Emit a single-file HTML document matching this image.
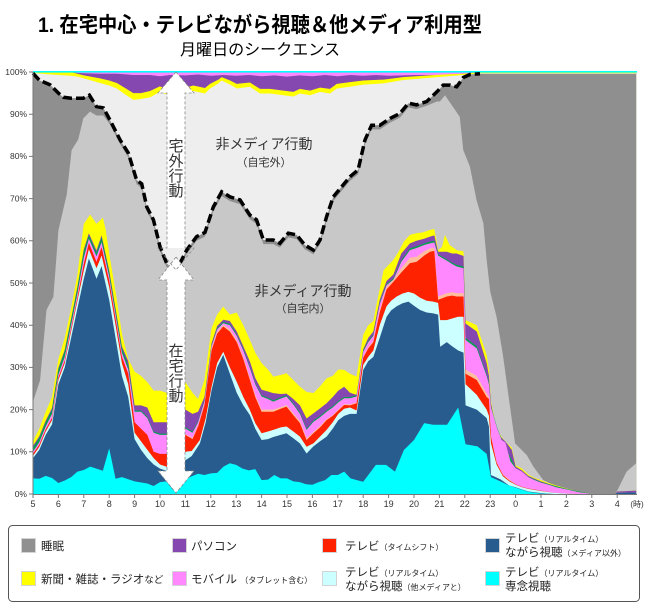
<!DOCTYPE html>
<html><head><meta charset="utf-8"><style>
html,body{margin:0;padding:0;background:#fff;overflow:hidden}
svg{display:block}
text{font-family:"Liberation Sans","Noto Sans CJK JP",sans-serif}
</style></head><body>
<svg width="650" height="611" viewBox="0 0 650 611" xmlns="http://www.w3.org/2000/svg">
<rect width="650" height="611" fill="#fff"/>
<text x="38" y="32" font-size="21" font-weight="bold" fill="#000" textLength="444" lengthAdjust="spacingAndGlyphs">1. 在宅中心・テレビながら視聴＆他メディア利用型</text>
<text x="180" y="55" font-size="16" fill="#000" textLength="160" lengthAdjust="spacingAndGlyphs">月曜日のシークエンス</text>

<g transform="translate(33,494) scale(25.4,-4.22)">
<rect x="0" y="0" width="23.75" height="100" fill="#ff88ff"/>
<polygon fill="#8547b0" points="0,0 0,100 1.5,100 1.75,99.8 2,99.7 2.64,99.6 3.3,99.6 3.95,99.3 4.6,99.3 5,99 5.4,99.3 6,99.2 6.5,99.4 7,99.1 7.5,99.3 8,99.1 8.5,99.3 9,99 9.5,99.2 10,98.9 10.5,99.2 11,99 11.5,99.3 12,99 12.5,99.3 13,99.1 13.5,99.3 14,99.1 15,99.3 16,99.3 16.94,99.6 17.6,100 23.75,100 23.75,0"/>
<polygon fill="#ffff00" points="0,0 0,100 1.5,100 1.75,99.6 2,99.2 2.64,98.5 3,98 3.3,97.4 3.6,96.3 3.95,95 4.25,95 4.61,95.5 4.99,96.6 5.39,95.8 5.92,96.1 6.31,96.8 6.77,96.2 6.97,97.2 7.3,98.2 7.43,98.8 7.76,98 8.02,97.2 8.54,97.5 8.94,96 9.33,96 9.86,95.6 10.25,95.3 10.51,96 10.91,95.6 11.3,96.3 11.69,96 11.96,97.2 12.48,97.6 13,98 13.8,98.2 14.58,98.8 15.37,99.1 16.15,99.4 16.94,99.6 17.6,100 23.75,100 23.75,0"/>
<polygon fill="#eeeeee" points="0,0 0,99.8 0.5,99.5 1,99.3 1.5,99.1 1.75,98.9 2,98.5 2.3,98 2.64,97.4 3,96.8 3.3,96.1 3.6,94.8 3.95,93.4 4.25,93.6 4.61,94 4.99,95.3 5.39,94.5 5.92,94.9 6.31,95.5 6.77,94.9 6.97,96.1 7.3,97.3 7.43,98 7.76,97 8.02,96.1 8.54,96.5 8.94,94.9 9.33,94.9 9.86,94.5 10.25,94.2 10.51,94.9 10.91,94.5 11.3,95.3 11.69,94.9 11.96,96.1 12.48,96.5 13,97 13.8,97.3 14.58,98.1 15.37,98.5 16.15,98.9 16.94,99.3 17.6,99.7 23.75,99.7 23.75,0"/>
<polygon fill="#8f8f8f" points="0,0 0,99.7 0.26,98 0.67,97 1,95 1.2,94 1.5,93.8 1.98,93.8 2.22,94.5 2.5,91.8 2.77,91.5 3.03,88.6 3.43,83.9 3.75,80.8 4.08,74.4 4.28,73.5 4.48,68 4.74,65 5,58.6 5.26,54.7 5.46,53.5 5.72,53.9 6.05,57.8 6.44,61 6.77,62 7.1,68 7.43,71.6 7.76,70.4 8.15,69.7 8.54,66.1 8.8,65 9.07,60.2 9.46,60.2 9.72,59.4 10.05,61.8 10.38,61.4 10.7,59 11.04,57.8 11.3,60.2 11.56,65.7 11.82,70.4 12.15,72.8 12.48,75.2 12.8,76.8 13.07,83.9 13.33,87.4 13.66,87.4 14.06,89 14.45,90.2 14.78,92.6 15.1,92.2 15.5,93 15.9,95.3 16.15,96.9 16.42,96.9 16.68,96.5 16.94,98.7 17.2,99.4 17.6,99.6 23.75,99.6 23.75,0"/>
<polygon fill="#c8c8c8" points="0,0 0,21.9 0.28,27 0.53,43.6 0.8,46.7 0.87,52 1,62.5 1.33,71 1.52,81.5 1.78,84 1.98,89 2.24,90.6 2.5,89.7 2.77,89.7 3.03,87.6 3.43,82.9 3.75,79.8 4.08,73.4 4.28,72.5 4.48,67 4.74,64 5,57.6 5.26,53.7 5.46,52.5 5.72,52.9 6.05,56.8 6.44,60 6.77,61 7.1,67 7.43,70.6 7.76,69.4 8.15,68.7 8.54,65.1 8.8,64 9.07,59.2 9.46,59.2 9.72,58.4 10.05,60.8 10.38,60.4 10.7,58 11.04,56.8 11.3,59.2 11.56,64.7 11.82,69.4 12.15,71.8 12.48,74.2 12.8,75.8 13.07,82.9 13.33,86.4 13.66,86.4 14.06,88 14.45,89.2 14.78,91.6 15.1,91.2 15.5,92 15.9,93 16.02,93 16.22,94.5 16.48,92.2 16.8,89.4 16.94,81.5 17.2,77.6 17.46,69.7 17.73,64.2 17.86,55.5 18,48 18.25,42 18.5,33 18.75,22 18.98,12 19.44,9.2 19.7,6.5 20.09,3.3 20.48,2.2 21,1.1 21.5,0.6 22,0 22.9,0 23,0.8 23.37,5.3 23.75,7.3 23.75,0"/>
<polygon fill="#ffff00" points="0,0 0,12.5 0.25,15.5 0.5,19.5 0.75,23 1,32 1.25,37 1.5,44 1.75,52 2,64 2.25,66.2 2.5,64 2.75,65.5 2.85,63 3,57 3.25,48 3.5,38 3.75,32 4,29 4.25,28 4.5,26.5 4.75,24.5 5,24.5 5.25,24 5.5,24 5.75,24 6,26.5 6.28,24 6.5,22.5 6.75,27 7.03,39.3 7.25,42.5 7.49,44.4 7.75,42.5 8.02,43 8.28,40 8.54,36.5 8.75,33.5 9,31 9.25,29.5 9.46,27.8 9.75,28.2 9.98,28.6 10.25,27 10.51,25.4 10.77,24.2 11.04,23.9 11.3,25.5 11.56,27.4 11.8,28 12.02,29.5 12.25,29.4 12.48,28.5 12.74,27.8 13,37.7 13.2,40 13.4,41 13.53,45 13.8,53 14.19,55.5 14.4,57.5 14.6,59.8 14.84,61.4 15.1,61.8 15.35,62 15.63,62.6 15.8,62.8 15.95,57.8 16.1,58.5 16.22,61.4 16.4,59 16.68,57.8 16.95,57.5 17.03,41.2 17.47,40 17.86,33 17.95,29.5 18.03,22 18.25,15.5 18.45,13.5 18.6,12.4 18.85,11 19,6.8 19.25,6 19.5,4.6 19.75,3.8 20,3.3 20.3,2.6 20.6,2 21,1.3 21.5,0.6 22,0 22.9,0 23,0.6 23.75,0.8 23.75,0"/>
<polygon fill="#8547b0" points="0,0 0,11.4 0.25,13.7 0.5,17.4 0.75,20.4 1,29.9 1.25,34.2 1.5,41.6 1.75,49.2 2,58 2.2,61.8 2.5,57.7 2.7,61.3 3,53 3.25,44 3.5,35 3.75,31.5 4,21 4.25,21 4.5,20.5 4.75,17 5,17 5.25,17 5.5,16.5 5.75,16 6,20 6.28,19 6.5,19.5 6.75,23 7.03,35.7 7.25,39.8 7.49,41.3 7.75,41 8.02,38.5 8.28,35 8.54,31.4 8.75,27.5 9,24.7 9.25,24.3 9.46,23.9 9.75,23.7 9.98,23.8 10.25,22.5 10.51,21 10.77,17.9 11.04,19.1 11.3,20.3 11.56,21.5 11.8,23 12.02,24.5 12.25,25.4 12.48,24 12.74,23.5 13,34.3 13.2,37 13.4,38.5 13.65,46 13.92,50.5 14.19,52 14.5,57 14.84,59.4 15.1,60 15.4,60.5 15.63,61 15.8,61.3 15.95,57.4 16.29,57.4 16.5,57 16.68,57 16.95,56.4 17.03,40.4 17.47,38.5 17.86,31 17.95,28 18.03,21.5 18.25,15 18.45,13.3 18.6,12.4 18.85,10.5 19,6.5 19.25,5.6 19.5,4.3 19.75,3.6 20,3 20.3,2.4 20.6,1.8 21,1.2 21.5,0.5 22,0 22.9,0 23,0.6 23.75,0.8 23.75,0"/>
<polygon fill="#00a050" points="0,0 0,11 0.25,13.3 0.5,17 0.75,20 1,29.5 1.25,33.8 1.5,41.2 1.75,48.8 2,57.5 2.2,61.3 2.5,57.2 2.7,60.8 3,52.5 3.25,43.5 3.5,34.5 3.75,30.5 4,19.8 4.25,19.8 4.5,18.3 4.75,14.8 5,14.3 5.25,14.3 5.5,13.8 5.75,13.8 6,15.8 6.28,14.8 6.5,17.3 6.75,22.3 7.03,35.3 7.25,39.3 7.49,40.8 7.75,40.3 8.02,37.8 8.28,34.3 8.54,30.1 8.75,26.3 9,23.4 9.25,22.8 9.46,22.2 9.75,22.9 9.98,23.4 10.25,21.5 10.51,19.3 10.77,15.5 11.04,17.4 11.3,18.5 11.56,19.8 11.8,20.8 12.02,22 12.25,23 12.48,23 12.74,23.4 13,34 13.2,36.3 13.4,37.8 13.65,45.3 13.92,49.8 14.19,51.1 14.5,55.4 14.84,58.2 15.1,58.7 15.4,59.4 15.63,59.8 15.8,60 15.95,56.8 16.29,55.6 16.5,54.8 16.68,54.3 16.95,53.9 17.03,37 17.47,35 17.86,28.4 17.95,26.4 18.03,20.8 18.25,16.2 18.45,13 19,6.2 19.5,4.1 20,2.8 21,1.2 22,0 23.75,0"/>
<polygon fill="#ff88ff" points="0,0 0,10 0.25,12.3 0.5,16 0.75,19 1,28.3 1.25,32.5 1.5,40 1.75,47.5 2,56 2.2,60.5 2.5,56.3 2.7,59.7 3,51.5 3.25,42.5 3.5,33.5 3.75,29.5 4,19.5 4.25,19.5 4.5,18 4.75,14.5 5,14 5.25,14 5.5,13.5 5.75,13.5 6,15.5 6.28,14.5 6.5,17 6.75,22 7.03,35 7.25,39 7.49,40.5 7.75,40 8.02,37.5 8.28,34 8.54,29.8 8.75,26 9,23.1 9.25,22.5 9.46,21.9 9.75,22.6 9.98,23.1 10.25,21.2 10.51,19 10.77,15.2 11.04,17.1 11.3,18.2 11.56,19.5 11.8,20.5 12.02,21.7 12.25,22.7 12.48,22.7 12.74,23.1 13,33.7 13.2,36 13.4,37.5 13.65,45 13.92,49.5 14.19,50.8 14.5,55 14.84,57.8 15.1,58.3 15.4,59 15.63,59.4 15.8,59.6 15.95,56.5 16.29,55.3 16.5,54.5 16.68,53.9 16.95,53.5 17.03,36.5 17.47,34.5 17.86,28 17.95,26 18.03,20.5 18.25,16 18.45,12.8 18.6,12.2 18.8,7.7 19,6.1 19.25,5.3 19.5,4 19.75,3.3 20,2.7 20.3,2.2 20.6,1.6 21,1.1 21.5,0.4 22,0 22.9,0 23,0.3 23.75,0.4 23.75,0"/>
<polygon fill="#ffbf9f" points="6,0 6,14.2 6.28,13.3 6.5,16.3 6.75,21.3 7.03,34.4 7.25,38.4 7.49,40.1 7.75,39 8.02,36.5 8.28,32.5 8.54,27.5 8.75,23.5 9,20 9.25,20 9.46,20 9.75,20.6 9.98,21.1 10.25,19.1 10.51,17.3 10.77,13.2 11.04,14.7 11.3,16.1 11.56,17.7 11.8,18.7 12.02,20 12.25,21.3 12.48,21.2 12.74,21.7 13,32.5 13.2,34.8 13.4,36.3 13.65,43.5 13.92,49 14.19,50.8 14.5,53.5 14.84,56 15.1,56.2 15.4,57.5 15.63,58.2 15.8,58.4 15.95,46.8 16.29,47.6 16.5,47.8 16.68,47.6 16.95,47.6 17.03,29.5 17.47,28 17.86,23.8 17.95,23 18.03,13.8 18.25,7.6 18.5,4.6 19,2.3 19,0"/>
<polygon fill="#ff2200" points="0,0 0,9.5 0.25,11.7 0.5,15.3 0.75,18 1,27.6 1.25,31.6 1.5,39.2 1.75,46.5 2,54.5 2.2,59.5 2.5,55 2.7,58.5 3,50.5 3.25,41.5 3.5,32.5 3.75,28.5 4,17 4.25,15.5 4.5,14 4.75,10 5,9.5 5.25,9.5 5.5,9 5.75,9.5 6,14 6.28,13 6.5,16 6.75,21 7.03,34 7.25,38 7.49,39.7 7.75,38.5 8.02,36 8.28,32 8.54,27 8.75,23 9,19.5 9.25,19.5 9.46,19.5 9.75,20.2 9.98,20.7 10.25,18.7 10.51,16.8 10.77,12.8 11.04,14.4 11.3,15.8 11.56,17.5 11.8,18.5 12.02,19.8 12.25,21.1 12.48,21 12.74,21.5 13,32.3 13.2,34.5 13.4,36 13.65,43 13.92,48.5 14.19,50.3 14.5,52.5 14.84,54.7 15.1,55 15.4,56.5 15.63,57.4 15.8,57.6 15.95,46 16.29,46.8 16.5,47 16.68,46.8 16.95,46.8 17.03,28.5 17.47,27 17.86,23 17.95,22.5 18.03,13.6 18.25,7.5 18.5,4.5 18.75,3.2 19,2.3 19.25,1.7 19.5,1.3 20,0.8 20.5,0.3 21,0.1 21.5,0 22.9,0 23,0.3 23.75,0.4 23.75,0"/>
<polygon fill="#ccffff" points="0,0 0,9 0.25,11.2 0.5,14.8 0.75,17.5 1,27 1.25,31 1.5,38.5 1.75,45.8 2,53 2.2,58 2.5,53.5 2.7,56.5 3,49 3.25,40 3.5,31 3.75,26 4,14.5 4.25,12.5 4.5,10.5 4.75,8.5 5,7 5.25,6.5 5.5,5.5 5.75,6.5 6,10 6.25,10.2 6.57,12.8 6.8,18 7.03,25.4 7.25,31 7.49,33.7 7.75,30 8.02,26.6 8.28,23 8.54,19.9 8.75,16.8 9,14.4 9.25,14.8 9.46,15.2 9.75,15.8 9.98,16 10.25,14.8 10.51,13.6 10.77,11.2 11.04,12 11.3,13.6 11.56,15.2 11.8,17 12.02,19 12.25,20.2 12.48,20.5 12.74,19.8 13,30.6 13.2,32.5 13.4,34 13.65,40 13.92,44.5 14.1,45.8 14.32,46.8 14.55,47.5 14.78,47.9 15,47.5 15.24,46.5 15.5,45.8 15.76,45.6 15.95,45.3 16.03,41.2 16.29,41.2 16.5,41.6 16.74,42 16.95,42 17.03,26 17.47,23.5 17.86,20 17.95,18.5 18.03,12 18.25,7 18.5,4.2 18.75,3 19,2.2 19.25,1.6 19.5,1.2 20,0.7 20.5,0.3 21,0.1 21.5,0 22.9,0 23,0.3 23.75,0.4 23.75,0"/>
<polygon fill="#285c8e" points="0,0 0,8.5 0.25,10.5 0.5,14 0.75,16.5 1,26 1.25,30 1.5,37 1.75,44 2,51 2.2,55.8 2.5,51 2.7,54 3,46 3.25,37 3.5,28 3.75,23 4,13 4.25,10.5 4.5,8.5 4.75,7 5,6 5.25,5.5 5.5,4.5 5.75,5.5 6,8 6.25,9 6.57,12 6.8,17 7.03,24.6 7.25,30 7.49,33 7.75,28.5 8.02,24 8.28,21 8.54,18.7 8.75,15.5 9,12.8 9.25,13 9.46,13.5 9.75,14 9.98,14.4 10.25,13.2 10.51,12 10.77,9.6 11.04,11.3 11.3,12.5 11.56,13.6 11.8,15.5 12.02,17.5 12.25,18.5 12.48,19 12.74,19 13,29.4 13.2,31.5 13.4,32.5 13.65,37 13.92,42 14.1,43.5 14.32,44.5 14.55,45.2 14.78,45.6 15,44.6 15.24,43.6 15.5,43 15.76,42.8 15.95,42.5 16.03,34.9 16.29,36 16.5,35 16.74,34 16.95,33.5 17.03,21 17.47,20 17.86,18 17.95,16 18.03,4.5 18.4,3.5 18.75,2 19,1.6 19.5,0.6 20,0.2 20.5,0 22.9,0 23,0.3 23.75,0.4 23.75,0"/>
<polygon fill="#00ffff" points="0,0 0,3.7 0.25,3.6 0.5,4.3 0.75,3.8 1,2.6 1.25,3.2 1.5,4 1.75,5.3 2,5.7 2.25,6.5 2.5,6 2.75,5.5 3,10.8 3.25,3.6 3.5,4 3.75,3.5 4,3 4.5,2.5 4.75,1.9 5,2.8 5.25,3 5.5,1 5.75,2.5 6,3.5 6.25,4.2 6.5,4.8 6.75,4.5 7,4.9 7.25,5 7.5,6.5 7.75,7.3 8,6.9 8.25,6 8.5,5.6 8.75,5.9 9,3.3 9.25,3.4 9.5,4.5 9.75,3.7 10,3.7 10.25,3 10.5,2.8 10.75,2.3 11,2.2 11.25,2.8 11.5,3.3 11.75,4.5 12,4.5 12.25,5.3 12.5,3.7 12.75,3.3 13,2.9 13.5,6.9 13.9,6.9 14.25,5.3 14.6,10.4 15,12.8 15.4,16.8 15.75,16.4 16.3,16.4 16.74,20.5 17.03,11.8 17.5,11.3 17.86,9.5 18.03,4 18.4,3 18.75,2 19,1.5 19.5,0.5 20,0.1 20.5,0 23.75,0"/>
</g>
<rect x="33" y="71" width="604" height="1.6" fill="#00ffff"/>

<polyline fill="none" stroke="#000" stroke-width="3.5" stroke-dasharray="9,4" points="33,73.3 39.6,80.4 50,84.7 58.4,93.1 63.5,97.3 71.1,98.2 83.3,98.2 89.4,95.2 96.5,106.6 103.4,107.9 110,120.1 120.1,139.9 128.3,153 136.6,180 141.7,183.8 146.8,207 153.4,219.7 160,246.7 166.6,263.2 171.7,268.2 178.3,266.5 186.7,250.1 196.6,236.6 205,232.4 213.3,207 221.7,191.8 230.1,196.9 240,199.9 249.9,215.1 256.5,219.7 263.4,240 273.3,240 279.9,243.3 288.3,233.2 296.7,234.9 304.8,245 313.4,250.1 320,240 326.6,216.7 333.2,196.9 341.6,186.8 350,176.7 358.1,169.9 365,139.9 371.6,125.2 380,125.2 390.1,118.4 400,113.4 408.4,103.2 416.5,104.9 426.7,101.5 436.9,91.8 443.2,85.1 450.1,85.1 456.7,86.8 463.3,77.5 469.9,74.5 480,73.7"/>

<!-- arrows -->
<polygon fill="#fff" points="176,257 194,280 185,280 185,471 194,471 176,493 158,471 167,471 167,280 158,280"/>
<polygon fill="#fff" points="176,72 194,93 185,93 185,248 167,248 167,93 158,93"/>
<polygon fill="none" stroke="#888" stroke-width="0.8" stroke-dasharray="3,2" points="176,257 194,280 185,280 185,471 194,471 176,493 158,471 167,471 167,280 158,280"/>
<polygon fill="none" stroke="#888" stroke-width="0.8" stroke-dasharray="3,2" points="176,72 194,93 185,93 185,248 194,248 176,270 158,248 167,248 167,93 158,93"/>
<g font-size="15" fill="#333" text-anchor="middle">
<text x="176" y="151">宅</text><text x="176" y="166">外</text><text x="176" y="181">行</text><text x="176" y="196">動</text>
<text x="176" y="356">在</text><text x="176" y="371">宅</text><text x="176" y="386">行</text><text x="176" y="401">動</text>
</g>
<g fill="#333" text-anchor="middle">
<text x="264" y="149" font-size="14">非メディア行動</text>
<text x="264" y="166" font-size="11">（自宅外）</text>
<text x="303" y="296" font-size="14">非メディア行動</text>
<text x="303" y="312" font-size="11">（自宅内）</text>
</g>

<!-- axes -->
<g stroke="#777" stroke-width="1">
<line x1="33" y1="72" x2="33" y2="494"/>
<line x1="33" y1="494.5" x2="637" y2="494.5"/>
<path d="M29,72H33M29,114.2H33M29,156.4H33M29,198.6H33M29,240.8H33M29,283H33M29,325.2H33M29,367.4H33M29,409.6H33M29,451.8H33M29,494H33"/>
<path d="M33,494V498M58.4,494V498M83.8,494V498M109.2,494V498M134.6,494V498M160,494V498M185.4,494V498M210.8,494V498M236.2,494V498M261.6,494V498M287,494V498M312.4,494V498M337.8,494V498M363.2,494V498M388.6,494V498M414,494V498M439.4,494V498M464.8,494V498M490.2,494V498M515.6,494V498M541,494V498M566.4,494V498M591.8,494V498M617.2,494V498"/>
</g>
<g font-size="8.5" fill="#333" text-anchor="end">
<text x="27" y="75">100%</text><text x="27" y="117">90%</text><text x="27" y="159">80%</text><text x="27" y="201.5">70%</text><text x="27" y="243.5">60%</text><text x="27" y="286">50%</text><text x="27" y="328">40%</text><text x="27" y="370">30%</text><text x="27" y="412.5">20%</text><text x="27" y="454.5">10%</text><text x="27" y="497">0%</text>
</g>
<g font-size="9" fill="#333" text-anchor="middle">
<text x="33" y="507">5</text><text x="58.4" y="507">6</text><text x="83.8" y="507">7</text><text x="109.2" y="507">8</text><text x="134.6" y="507">9</text><text x="160" y="507">10</text><text x="185.4" y="507">11</text><text x="210.8" y="507">12</text><text x="236.2" y="507">13</text><text x="261.6" y="507">14</text><text x="287" y="507">15</text><text x="312.4" y="507">16</text><text x="337.8" y="507">17</text><text x="363.2" y="507">18</text><text x="388.6" y="507">19</text><text x="414" y="507">20</text><text x="439.4" y="507">21</text><text x="464.8" y="507">22</text><text x="490.2" y="507">23</text><text x="515.6" y="507">0</text><text x="541" y="507">1</text><text x="566.4" y="507">2</text><text x="591.8" y="507">3</text><text x="617.2" y="507">4</text>
<text x="637" y="507" font-size="8">(時)</text>
</g>

<!-- legend -->
<rect x="8.5" y="525.5" width="631" height="76" rx="4" fill="#fff" stroke="#555" stroke-width="1"/>
<g stroke="#d4d4d4" stroke-width="1">
<rect x="21.5" y="538.5" width="14" height="14" fill="#909090"/>
<rect x="172.5" y="538.5" width="14" height="14" fill="#8547b0"/>
<rect x="322.5" y="538.5" width="14" height="14" fill="#ff2200"/>
<rect x="485.5" y="538.5" width="14" height="14" fill="#285c8e"/>
<rect x="21.5" y="571.5" width="14" height="14" fill="#ffff00"/>
<rect x="172.5" y="571.5" width="14" height="14" fill="#ff88ff"/>
<rect x="322.5" y="571.5" width="14" height="14" fill="#ccffff"/>
<rect x="485.5" y="571.5" width="14" height="14" fill="#00ffff"/>
</g>
<g font-size="11.5" fill="#222">
<text x="41" y="550">睡眠</text>
<text x="191" y="550">パソコン</text>
<text x="345" y="550">テレビ<tspan font-size="8">（タイムシフト）</tspan></text>
<text x="505" y="542">テレビ<tspan font-size="8">（リアルタイム）</tspan></text>
<text x="505" y="556">ながら視聴<tspan font-size="8">（メディア以外）</tspan></text>
<text x="41" y="583">新聞・雑誌・ラジオ<tspan font-size="9.5">など</tspan></text>
<text x="191" y="583">モバイル <tspan font-size="8">（タブレット含む）</tspan></text>
<text x="345" y="576">テレビ<tspan font-size="8">（リアルタイム）</tspan></text>
<text x="345" y="590">ながら視聴<tspan font-size="8">（他メディアと）</tspan></text>
<text x="505" y="576">テレビ<tspan font-size="8">（リアルタイム）</tspan></text>
<text x="505" y="590">専念視聴</text>
</g>
</svg>
</body></html>
